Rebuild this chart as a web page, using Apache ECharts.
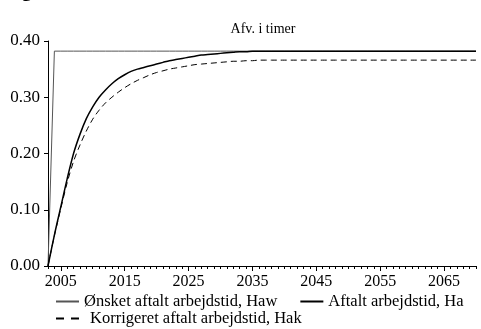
<!DOCTYPE html>
<html>
<head>
<meta charset="utf-8">
<script src="https://cdn.jsdelivr.net/npm/echarts@6/dist/echarts.min.js"></script>
<style>
  html, body { margin: 0; padding: 0; background: #fff; }
  #chart { width: 481px; height: 329px; }
</style>
</head>
<body>
<div id="chart"></div>
<script>
// Years 2003..2070
const years = [];
for (let y = 2003; y <= 2070; y++) years.push(y);

// Ønsket aftalt arbejdstid, Haw
const haw = [0.000, 0.382, 0.382, 0.382, 0.382, 0.382, 0.382, 0.382, 0.382, 0.382,
  0.382, 0.382, 0.382, 0.382, 0.382, 0.382, 0.382, 0.382, 0.382, 0.382,
  0.382, 0.382, 0.382, 0.382, 0.382, 0.382, 0.382, 0.382, 0.382, 0.382,
  0.382, 0.382, 0.382, 0.382, 0.382, 0.382, 0.382, 0.382, 0.382, 0.382,
  0.382, 0.382, 0.382, 0.382, 0.382, 0.382, 0.382, 0.382, 0.382, 0.382,
  0.382, 0.382, 0.382, 0.382, 0.382, 0.382, 0.382, 0.382, 0.382, 0.382,
  0.382, 0.382, 0.382, 0.382, 0.382, 0.382, 0.382, 0.382];

// Aftalt arbejdstid, Ha
const ha = [0.000, 0.055, 0.105, 0.155, 0.200, 0.234, 0.262, 0.283, 0.300, 0.313,
  0.324, 0.333, 0.340, 0.346, 0.350, 0.353, 0.356, 0.359, 0.362, 0.365,
  0.367, 0.369, 0.371, 0.373, 0.375, 0.376, 0.377, 0.378, 0.379, 0.380,
  0.381, 0.381, 0.382, 0.382, 0.382, 0.382, 0.382, 0.382, 0.382, 0.382,
  0.382, 0.382, 0.382, 0.382, 0.382, 0.382, 0.382, 0.382, 0.382, 0.382,
  0.382, 0.382, 0.382, 0.382, 0.382, 0.382, 0.382, 0.382, 0.382, 0.382,
  0.382, 0.382, 0.382, 0.382, 0.382, 0.382, 0.382, 0.382];

// Korrigeret aftalt arbejdstid, Hak
const hak = [0.000, 0.054, 0.102, 0.148, 0.186, 0.215, 0.240, 0.261, 0.277, 0.290,
  0.300, 0.309, 0.317, 0.324, 0.330, 0.335, 0.340, 0.344, 0.347, 0.350,
  0.352, 0.354, 0.356, 0.358, 0.359, 0.360, 0.361, 0.362, 0.363, 0.364,
  0.364, 0.365, 0.365, 0.366, 0.366, 0.366, 0.366, 0.366, 0.366, 0.366,
  0.366, 0.366, 0.366, 0.366, 0.366, 0.366, 0.366, 0.366, 0.366, 0.366,
  0.366, 0.366, 0.366, 0.366, 0.366, 0.366, 0.366, 0.366, 0.366, 0.366,
  0.366, 0.366, 0.366, 0.366, 0.366, 0.366, 0.366, 0.366];

const xLabels = [2005, 2015, 2025, 2035, 2045, 2055, 2065];
const yTicks = [0, 0.1, 0.2, 0.3, 0.4];

const seriesNames = ['Ønsket aftalt arbejdstid, Haw', 'Aftalt arbejdstid, Ha', 'Korrigeret aftalt arbejdstid, Hak'];

const FONT = '"Liberation Serif", "DejaVu Serif", serif';
const pairs = arr => arr.map((v, i) => [years[i], v]);

const chart = echarts.init(document.getElementById('chart'), null, { renderer: 'canvas' });

const legendText = { fontFamily: FONT, fontSize: 16.5, color: '#000' };

chart.setOption({
  animation: false,
  backgroundColor: '#ffffff',
  title: {
    text: 'Afv. i timer',
    left: 258, top: 17, textAlign: 'center',
    textStyle: { fontFamily: FONT, fontSize: 14, fontWeight: 'normal', color: '#000' }
  },
  graphic: [{
    type: 'text', left: 4, top: -19,
    style: { text: 'Figur', font: 'bold 20px ' + FONT, fill: '#000' }
  }],
  grid: { left: 48, right: 5, top: 41, bottom: 63, containLabel: false },
  xAxis: [{
    type: 'value', min: 2003, max: 2070,
    axisLine: { lineStyle: { color: '#000', width: 1 } },
    axisTick: { show: true, inside: false, length: 5, customValues: xLabels, lineStyle: { color: '#000' } },
    axisLabel: { customValues: xLabels, fontFamily: FONT, fontSize: 16, color: '#000', margin: 8,
      formatter: v => String(v) },
    splitLine: { show: false }
  }, {
    type: 'value', min: 2003, max: 2070, position: 'bottom',
    axisLine: { show: false },
    axisTick: { show: true, inside: false, length: 3, customValues: years, lineStyle: { color: '#000' } },
    axisLabel: { show: false },
    splitLine: { show: false }
  }],
  yAxis: {
    type: 'value', min: 0, max: 0.4,
    axisLine: { show: true, lineStyle: { color: '#000', width: 1 } },
    axisTick: { show: true, inside: false, length: 4, customValues: yTicks, lineStyle: { color: '#000' } },
    axisLabel: { customValues: yTicks, fontFamily: FONT, fontSize: 17, color: '#000', margin: 8,
      formatter: v => v.toFixed(2) },
    splitLine: { show: false }
  },
  legend: [{
    data: [seriesNames[0], seriesNames[1]],
    left: 50, top: 288, orient: 'horizontal',
    itemWidth: 23, itemHeight: 10, itemGap: 22,
    itemStyle: { opacity: 0 },
    textStyle: legendText
  }, {
    data: [{ name: seriesNames[2], lineStyle: { type: [8, 7] },
      textStyle: { padding: [0, 0, 0, 6] } }],
    left: 50, top: 305, orient: 'horizontal',
    itemWidth: 23, itemHeight: 10,
    itemStyle: { opacity: 0 },
    textStyle: legendText
  }],
  series: [{
    name: seriesNames[0], type: 'line', data: pairs(haw),
    symbol: 'none', lineStyle: { color: '#555', width: 1 }, itemStyle: { color: '#555' }
  }, {
    name: seriesNames[1], type: 'line', data: pairs(ha), smooth: 0.3,
    symbol: 'none', lineStyle: { color: '#000', width: 1.5 }, itemStyle: { color: '#000' }
  }, {
    name: seriesNames[2], type: 'line', data: pairs(hak), smooth: 0.3,
    symbol: 'none', lineStyle: { color: '#000', width: 1, type: [6, 4] }, itemStyle: { color: '#000' }
  }]
});
</script>
</body>
</html>
